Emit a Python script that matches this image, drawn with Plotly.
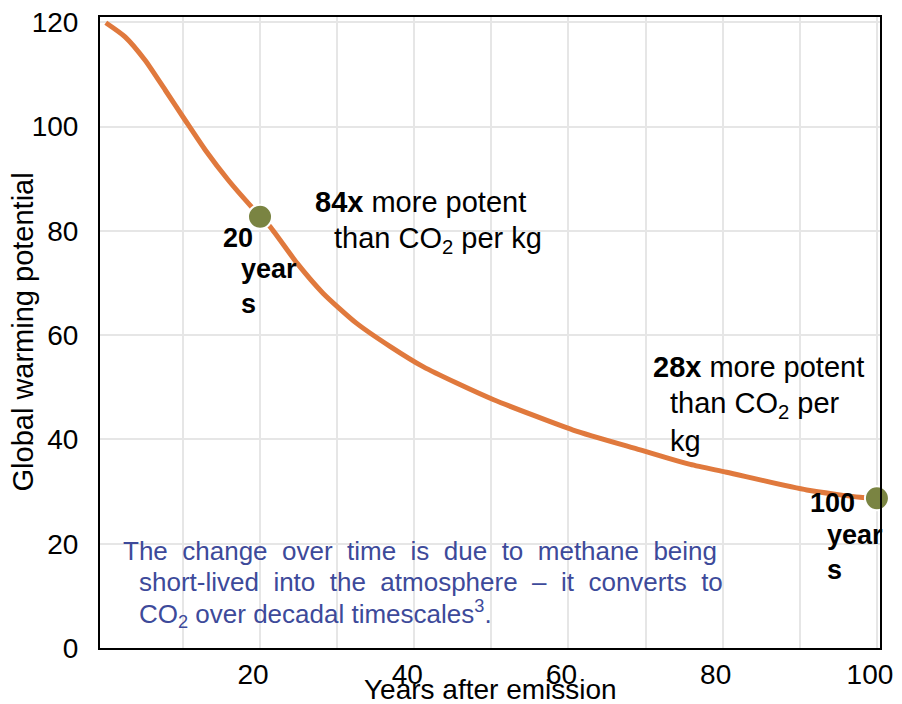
import plotly.graph_objects as go

# Data
years = [0, 2.5, 5.1, 7.7, 10.3, 12.9, 15.9, 18.9, 21.3, 24.8, 28.2, 32.5, 36.9,
         41.2, 45.5, 50.3, 60.6, 69.3, 75.8, 80.5, 90.9, 97.8, 100]
gwp = [119.9, 117.2, 112.7, 107.0, 101.2, 95.5, 89.7, 84.6, 80.8, 73.8, 68.0, 62.3, 57.8,
       53.9, 50.8, 47.6, 41.8, 38.0, 35.2, 33.7, 30.3, 28.9, 28.7]
marker_years = [20, 100]
marker_gwp = [82.7, 28.7]

x_tickvals = [20, 40, 60, 80, 100]
x_ticktext = ["20", "40", "60", "80", "100"]
x_minor_vals = [10, 30, 50, 70, 90]
y_tickvals = [0, 20, 40, 60, 80, 100, 120]

FONT = "Arial, Liberation Sans, sans-serif"
BLUE = "#3d4a9a"
NB = "\u00a0"

fig = go.Figure()
fig.add_trace(go.Scatter(x=years, y=gwp, mode="lines",
                         line=dict(color="#e0793d", width=5, shape="spline", smoothing=0.6),
                         hoverinfo="skip", showlegend=False))
fig.add_trace(go.Scatter(x=marker_years, y=marker_gwp, mode="markers",
                         marker=dict(size=24, color="#7a8442", line=dict(color="white", width=2)),
                         cliponaxis=False, showlegend=False))

# white background boxes behind text blocks
fig.add_shape(type="rect", xref="x", yref="y", x0=25.2, x1=57.0, y0=75.0, y1=90.3,
              fillcolor="white", line=dict(width=0), layer="below")
fig.add_shape(type="rect", xref="x", yref="y", x0=0.8, x1=79.6, y0=2.5, y1=24.3,
              fillcolor="white", line=dict(width=0), layer="below")

def ann(x, y, text, size=26, color="black", xanchor="left"):
    fig.add_annotation(x=x, y=y, xref="x", yref="y", text=text, showarrow=False,
                       xanchor=xanchor, yanchor="middle", align="left",
                       font=dict(family=FONT, size=size, color=color))

ann(26.9, 85.5, "<b>84x</b> more potent", 29)
ann(29.3, 78.2, "than CO<sub>2</sub> per kg", 29)
ann(70.7, 53.9, "<b>28x</b> more potent", 29)
ann(72.9, 43.4, "than CO<sub>2</sub> per<br>kg", 29)
ann(15.0, 78.6, "<b>20</b>", 27)
ann(17.3, 69.3, "<b>year<br>s</b>", 27)
ann(91.0, 27.8, "<b>100</b>", 27)
ann(93.3, 18.3, "<b>year<br>s</b>", 27)

sp = " " + NB
line1 = sp.join("The change over time is due to methane being".split(" "))
line2 = sp.join("short-lived into the atmosphere – it converts to".split(" "))
ann(2.0, 18.6, line1, 26, BLUE)
ann(4.1, 12.7, line2, 26, BLUE)
ann(4.1, 6.6, "CO<sub>2</sub> over decadal timescales<sup>3</sup>.", 26, BLUE)

# axis titles
fig.add_annotation(x=0.5, y=-0.066, xref="paper", yref="paper", text="Years after emission",
                   showarrow=False, xanchor="center", yanchor="middle",
                   font=dict(family=FONT, size=28, color="black"))
fig.add_annotation(x=-0.1, y=0.5, xref="paper", yref="paper", text="Global warming potential",
                   showarrow=False, xanchor="center", yanchor="middle", textangle=-90,
                   font=dict(family=FONT, size=29, color="black"))

fig.update_xaxes(range=[-0.75, 100.4], tickvals=x_tickvals, ticktext=x_ticktext,
                 showgrid=True, gridcolor="#e6e6e6", gridwidth=1.5,
                 minor=dict(tickvals=x_minor_vals, showgrid=True, gridcolor="#e6e6e6", gridwidth=1.5),
                 showline=True, linecolor="black", linewidth=2, mirror=True,
                 zeroline=False, ticks="", ticklabelshift=-7, ticklabeloverflow="allow",
                 tickfont=dict(family=FONT, size=28, color="black"))
fig.update_yaxes(range=[0, 121], tickvals=y_tickvals,
                 showgrid=True, gridcolor="#e6e6e6", gridwidth=1.5,
                 showline=True, linecolor="black", linewidth=2, mirror=True,
                 zeroline=False, ticks="", ticklabelstandoff=14, ticklabeloverflow="allow",
                 tickfont=dict(family=FONT, size=28, color="black"))

# page body has an 8px margin, so the figure is sized to fit the 902x704 window
fig.update_layout(width=894, height=696, autosize=False,
                  margin=dict(l=92, r=22, t=9, b=56, autoexpand=False),
                  paper_bgcolor="white", plot_bgcolor="white",
                  font=dict(family=FONT), showlegend=False)

fig.write_html("out.html")
